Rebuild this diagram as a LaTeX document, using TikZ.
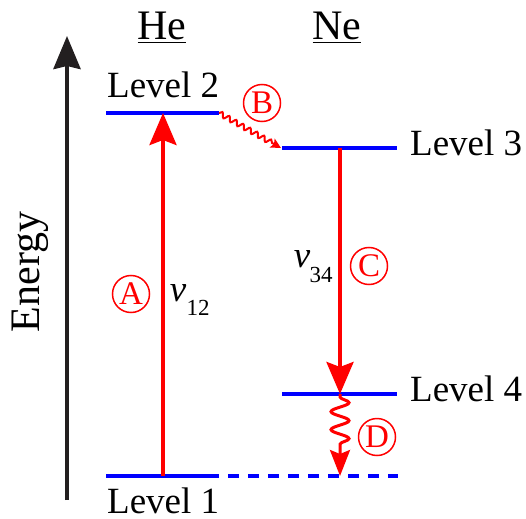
\documentclass[tikz,border=0pt]{standalone}
\usepackage{fontspec}
\setmainfont{Liberation Serif}
\usetikzlibrary{arrows.meta,positioning,decorations.pathmorphing}
\definecolor{levelblue}{RGB}{0,0,255}
\definecolor{transred}{RGB}{255,0,0}
\definecolor{axisblack}{RGB}{35,31,32}

\begin{document}
\begin{tikzpicture}[
    x=1pt, y=-1pt,
    every node/.style={font=\fontsize{37}{40}\selectfont, inner sep=0pt},
    title/.style={font=\fontsize{42}{44}\selectfont, anchor=base},
    levellabel/.style={anchor=base west},
    level/.style={draw=levelblue, line width=4pt},
    ghostlevel/.style={draw=levelblue, line width=4pt, dash pattern=on 11pt off 9pt},
    transition/.style={-{Stealth[length=32pt, width=27pt, inset=5pt]}, draw=transred, line width=4pt},
    smalldecay/.style={-{Stealth[length=10pt, width=10pt, inset=2pt]}, draw=transred, line width=2pt,
                       decorate, decoration={snake, amplitude=2.5pt, segment length=8pt, post length=10pt}},
    bigdecay/.style={-{Stealth[length=26pt, width=20pt, inset=4pt]}, draw=transred, line width=3pt,
                     decorate, decoration={snake, amplitude=9pt, segment length=18pt, pre length=3pt, post length=26pt}},
    tag/.style={circle, draw=transred, text=transred, line width=1.5pt, minimum size=37pt,
                font=\fontsize{33}{35}\selectfont},
    axis/.style={-{Stealth[length=33pt, width=27pt, inset=3pt]}, draw=axisblack, line width=4pt}
]
\useasboundingbox (0,0) rectangle (526,518);

% energy axis
\coordinate (axisbot) at (67,500);
\coordinate (axistop) at (67,36);
\draw[axis] (axisbot) -- (axistop);
\node[rotate=90, font=\fontsize{42}{44}\selectfont] (energy) at (30,272) {Energy};

% atoms
\node[title] (he) at (162,40) {\underline{He}};
\node[title] (ne) at (337,40) {\underline{Ne}};

% levels
\coordinate (l2w) at (106,113);  \coordinate (l2e) at (219,113);
\coordinate (l1w) at (106,476);  \coordinate (l1e) at (219,476);
\coordinate (l3w) at (282,148);  \coordinate (l3e) at (397,148);
\coordinate (l4w) at (282,394);  \coordinate (l4e) at (397,394);
\coordinate (ghostw) at (228,476); \coordinate (ghoste) at (398,476);
\draw[level] (l2w) -- (l2e);
\draw[level] (l1w) -- (l1e);
\draw[level] (l3w) -- (l3e);
\draw[level] (l4w) -- (l4e);
\draw[ghostlevel] (ghostw) -- (ghoste);

\node[levellabel] (lab2) at (107,98) {Level 2};
\node[levellabel] (lab1) at (107,513) {Level 1};
\node[levellabel] (lab3) at (410,156) {Level 3};
\node[levellabel] (lab4) at (410,401) {Level 4};

% transitions
\coordinate (he1) at (163,476);
\coordinate (he2) at (163,113);
\coordinate (ne3) at (340,148);
\coordinate (ne4) at (340,394);
\coordinate (ne1) at (340,476);
\coordinate (bend) at (281,148);
\draw[transition] (he1) -- (he2);
\draw[transition] (ne3) -- (ne4);
\draw[smalldecay] (l2e) -- (bend);
\draw[bigdecay] (ne4) -- (ne1);

% frequencies
\node (nu12) at (178,293) {\itshape v};
\node[font=\fontsize{23}{25}\selectfont] (nu12sub) at (198,308) {12};
\node (nu34) at (302,259) {\itshape v};
\node[font=\fontsize{23}{25}\selectfont] (nu34sub) at (321,275) {34};

% steps
\node[tag] (stepA) at (131,294) {A};
\node[tag] (stepB) at (262,103) {B};
\node[tag] (stepC) at (369,266) {C};
\node[tag] (stepD) at (377,437) {D};
\end{tikzpicture}
\end{document}
